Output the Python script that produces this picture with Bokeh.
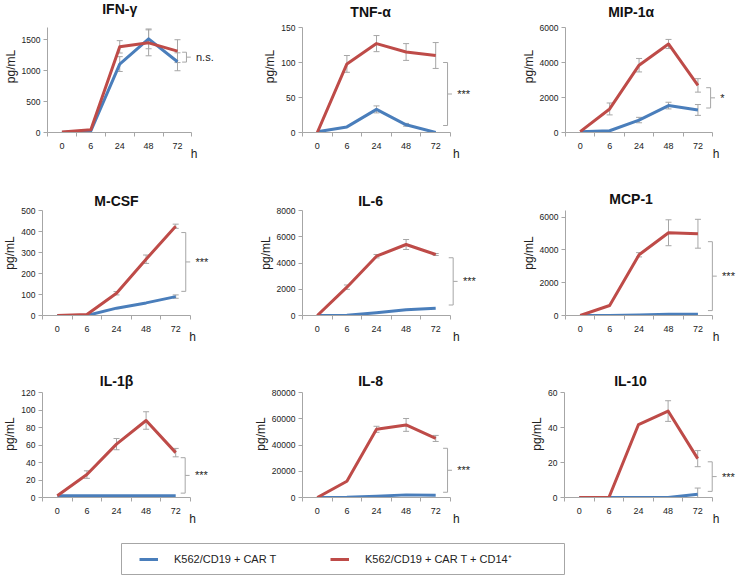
from bokeh.plotting import figure
from bokeh.layouts import column, row
from bokeh.models import (Range1d, FixedTicker, SingleIntervalTicker, NumeralTickFormatter,
                          ColumnDataSource, Whisker, TeeHead, Legend, LegendItem, Spacer, LinearAxis)
from bokeh.core.properties import value
from bokeh.embed import file_html
from bokeh.resources import INLINE

# ---------------- data ----------------
times = ["0", "6", "24", "48", "72"]
time_unit = "h"
cytokines = ["IFN-γ", "TNF-α", "MIP-1α", "M-CSF", "IL-6", "MCP-1", "IL-1β", "IL-8", "IL-10"]
series_names = ["K562/CD19 + CAR T", "K562/CD19 + CAR T + CD14\u207a"]

ifng_car = [0, 27, 1108, 1516, 1145]
ifng_car_sd = [0, 0, 120, 160, 145]
ifng_cd14 = [10, 43, 1387, 1452, 1317]
ifng_cd14_sd = [0, 0, 100, 210, 185]

tnfa_car = [1, 8, 33, 11, 0]
tnfa_car_sd = [0, 0, 5, 2, 0]
tnfa_cd14 = [0, 98, 127, 115, 110]
tnfa_cd14_sd = [0, 12, 11.5, 12, 18.5]

mip1a_car = [50, 100, 711, 1538, 1288]
mip1a_car_sd = [0, 0, 155, 190, 310]
mip1a_cd14 = [50, 1346, 3846, 5058, 2692]
mip1a_cd14_sd = [0, 340, 385, 260, 385]

mcsf_car = [0, 0, 35, 60, 90]
mcsf_car_sd = [0, 0, 0, 0, 8]
mcsf_cd14 = [0, 5, 106, 268, 425]
mcsf_cd14_sd = [0, 0, 8, 20, 10]

il6_car = [0, 20, 203, 432, 559]
il6_car_sd = [0, 0, 0, 0, 0]
il6_cd14 = [0, 2159, 4520, 5410, 4648]
il6_cd14_sd = [0, 165, 130, 380, 75]

mcp1_car = [0, 0, 30, 80, 80]
mcp1_car_sd = [0, 0, 0, 0, 0]
mcp1_cd14 = [0, 610, 3702, 5044, 4983]
mcp1_cd14_sd = [0, 0, 130, 790, 880]

il1b_car = [2, 2, 2, 2, 2]
il1b_car_sd = [0, 0, 0, 0, 0]
il1b_cd14 = [2, 26.2, 61, 88, 51.3]
il1b_cd14_sd = [0, 4.3, 6.4, 10, 4.8]

il8_car = [0, 200, 1000, 2000, 1800]
il8_car_sd = [0, 0, 0, 0, 0]
il8_cd14 = [0, 12350, 51960, 55300, 45000]
il8_cd14_sd = [0, 0, 2300, 4900, 2300]

il10_car = [0, 0, 0, 0, 1.9]
il10_car_sd = [0, 0, 0, 0, 3.5]
il10_cd14 = [0, 0, 41.7, 49.4, 22.2]
il10_cd14_sd = [0, 0, 0, 5.9, 4.6]

car_vals = [ifng_car, tnfa_car, mip1a_car, mcsf_car, il6_car, mcp1_car, il1b_car, il8_car, il10_car]
car_sds = [ifng_car_sd, tnfa_car_sd, mip1a_car_sd, mcsf_car_sd, il6_car_sd, mcp1_car_sd,
           il1b_car_sd, il8_car_sd, il10_car_sd]
cd14_vals = [ifng_cd14, tnfa_cd14, mip1a_cd14, mcsf_cd14, il6_cd14, mcp1_cd14, il1b_cd14, il8_cd14, il10_cd14]
cd14_sds = [ifng_cd14_sd, tnfa_cd14_sd, mip1a_cd14_sd, mcsf_cd14_sd, il6_cd14_sd, mcp1_cd14_sd,
            il1b_cd14_sd, il8_cd14_sd, il10_cd14_sd]

y_max = [1700, 150, 6000, 500, 8000, 6400, 120, 80000, 60]
y_step = [500, 50, 2000, 100, 2000, 2000, 20, 20000, 20]

significance = ["n.s.", "***", "*", "***", "***", "***", "***", "***", "***"]
bracket_low = [1140, 10, 1400, 115, 800, 300, 5, 4000, 3.5]
bracket_high = [1300, 100, 2560, 395, 4400, 4500, 45.5, 37500, 20.4]

# ---------------- styling / layout ----------------
BLUE = "#4A7EBB"
RED = "#BE4B48"
GRAY = "#A6A6A6"
TXT = "#222222"
FONT = "Liberation Sans"

PX_PER_UNIT = 29.6
col_w = [250, 268, 221]
col_l = [42, 52, 46]
row_h = [190, 180, 167]
row_t = [27, 20, 22]          # title space kept inside the frame, above the y axis
FRAME_H = 105                 # height of the y axis itself
title_x = [3.0, 2.8, 2.73]
title_dy = [19, 16, 16, 10, 10, 12, 12, 12, 12]
bracket_x = [5.31, 5.40, 5.43, 5.34, 5.59, 5.49, 5.32, 5.40, 5.49]
h_x = [5.57, 5.70, 5.62]

x = list(range(1, len(times) + 1))


def make_panel(i):
    r, c = divmod(i, 3)
    W, L = col_w[c], col_l[c]
    xmax = 0.5 + (W - L) / PX_PER_UNIT
    frame_h = row_t[r] + FRAME_H
    ytop = y_max[i] * frame_h / FRAME_H
    p = figure(width=W, height=row_h[r], x_range=Range1d(0.5, xmax), y_range=Range1d(0, ytop),
               output_backend="svg", toolbar_location=None, title=None,
               min_border_left=L, min_border_right=0, min_border_top=0,
               min_border_bottom=row_h[r] - frame_h)
    p.outline_line_color = None
    p.grid.visible = False
    p.background_fill_color = "white"

    xa = p.xaxis[0]
    xa.ticker = FixedTicker(ticks=x, minor_ticks=[k + 0.5 for k in range(0, len(times) + 1)])
    xa.major_label_overrides = {k: t for k, t in zip(x, times)}
    xa.bounds = (0.5, len(times) + 0.5)
    xa.major_tick_line_color = None
    xa.major_tick_out = 0
    xa.major_tick_in = 0
    xa.minor_tick_in = 0
    xa.minor_tick_out = 4
    xa.minor_tick_line_color = GRAY
    xa.axis_line_color = GRAY
    xa.major_label_standoff = 6
    xa.major_label_text_font = FONT
    xa.major_label_text_font_size = "9px"
    xa.major_label_text_color = TXT

    # unit label "h" at the right end, below the tick labels
    ha = LinearAxis(ticker=FixedTicker(ticks=[h_x[c]]),
                    major_label_overrides={h_x[c]: time_unit})
    ha.axis_line_color = None
    ha.major_tick_line_color = None
    ha.minor_tick_line_color = None
    ha.major_tick_out = 0
    ha.major_tick_in = 0
    ha.major_label_standoff = -5
    ha.major_label_text_font = FONT
    ha.major_label_text_font_size = "12px"
    ha.major_label_text_color = TXT
    p.add_layout(ha, "below")

    ya = p.yaxis[0]
    ya.ticker = SingleIntervalTicker(interval=y_step[i], num_minor_ticks=0)
    ya.formatter = NumeralTickFormatter(format="0")
    ya.bounds = (0, y_max[i])
    ya.major_tick_out = 4
    ya.major_tick_in = 0
    ya.major_tick_line_color = GRAY
    ya.minor_tick_line_color = None
    ya.axis_line_color = GRAY
    ya.major_label_standoff = 3
    ya.major_label_text_font = FONT
    ya.major_label_text_font_size = "8.5px"
    ya.major_label_text_color = TXT
    ya.axis_label = "pg/mL"
    ya.axis_label_text_font = FONT
    ya.axis_label_text_font_size = "12px"
    ya.axis_label_text_font_style = "normal"
    ya.axis_label_text_color = TXT
    ya.axis_label_standoff = 1

    src = ColumnDataSource(dict(x=x, car=car_vals[i], cd14=cd14_vals[i]))

    for vals, sds in ((car_vals[i], car_sds[i]), (cd14_vals[i], cd14_sds[i])):
        idx = [k for k in range(len(x)) if sds[k] > 0]
        if not idx:
            continue
        wsrc = ColumnDataSource(dict(x=[x[k] for k in idx],
                                     lo=[vals[k] - sds[k] for k in idx],
                                     hi=[vals[k] + sds[k] for k in idx]))
        w = Whisker(base="x", lower="lo", upper="hi", source=wsrc, line_color=GRAY, line_width=1,
                    upper_head=TeeHead(size=6, line_color=GRAY, line_width=1),
                    lower_head=TeeHead(size=6, line_color=GRAY, line_width=1))
        p.add_layout(w)

    p.line("x", "car", source=src, line_width=3, line_color=BLUE, line_join="round")
    p.line("x", "cd14", source=src, line_width=3, line_color=RED, line_join="round")

    # significance bracket
    bx = bracket_x[i]
    lo, hi = bracket_low[i], bracket_high[i]
    mid = (lo + hi) / 2
    arm = 0.15
    p.line([bx - arm, bx, bx, bx - arm], [lo, lo, hi, hi], line_color=GRAY, line_width=1)
    p.segment(x0=[bx], y0=[mid], x1=[bx + arm], y1=[mid], line_color=GRAY, line_width=1)
    p.text(x=[bx + 0.33], y=[mid], text=[significance[i]], text_font=value(FONT),
           text_font_size="11px", text_baseline="middle", text_align="left", text_color=TXT)

    # panel title (inside the frame, above the y axis)
    ty = y_max[i] * (1 + title_dy[i] / FRAME_H)
    p.text(x=[title_x[c]], y=[ty], text=[cytokines[i]], text_font=value(FONT),
           text_font_size="14px", text_font_style="bold", text_align="center",
           text_baseline="alphabetic", text_color="#111111")
    return p


panels = [make_panel(i) for i in range(len(cytokines))]

# legend
LG_H = 575 - sum(row_h)
lg = figure(width=444, height=LG_H, x_range=Range1d(0, 1), y_range=Range1d(0, 1),
            output_backend="svg", toolbar_location=None, title=None,
            x_axis_type=None, y_axis_type=None,
            min_border_left=0, min_border_right=0, min_border_top=6, min_border_bottom=0)
lg.grid.visible = False
lg.outline_line_color = GRAY
r1 = lg.line(x=[0], y=[float("nan")], line_color=BLUE, line_width=3)
r2 = lg.line(x=[0], y=[float("nan")], line_color=RED, line_width=3)
leg = Legend(items=[LegendItem(label=series_names[0], renderers=[r1]),
                    LegendItem(label=series_names[1], renderers=[r2])],
             orientation="horizontal", location=(12, 3), margin=0, padding=6, spacing=6,
             label_standoff=16, glyph_width=19, glyph_height=12, label_width=150,
             label_text_font=FONT, label_text_font_size="11px", label_text_color=TXT,
             border_line_alpha=0, background_fill_alpha=0)
lg.add_layout(leg)

layout = column(row(*panels[0:3]), row(*panels[3:6]), row(*panels[6:9]),
                row(Spacer(width=121, height=LG_H), lg))

open("out.html", "w").write(file_html(layout, INLINE))
